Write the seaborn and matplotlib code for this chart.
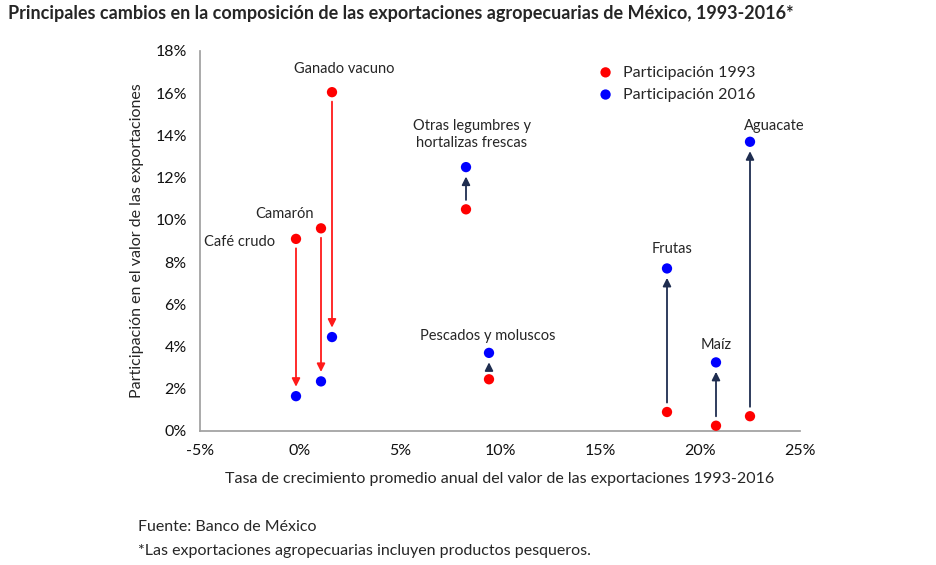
import matplotlib.pyplot as plt
import seaborn as sns
import pandas as pd

productos = ['Café crudo', 'Camarón', 'Ganado vacuno', 'Otras legumbres y\nhortalizas frescas',
             'Pescados y moluscos', 'Frutas', 'Maíz', 'Aguacate']
crecimiento = [-0.2, 1.05, 1.6, 8.3, 9.45, 18.35, 20.8, 22.5]
part_1993 = [9.1, 9.6, 16.05, 10.5, 2.45, 0.9, 0.25, 0.7]
part_2016 = [1.65, 2.35, 4.45, 12.5, 3.7, 7.7, 3.25, 13.7]
# posiciones de etiquetas (x, y) en unidades de datos
etiquetas_pos = [(-3.0, 8.6), (-0.8, 9.95), (2.2, 16.8), (8.6, 13.3),
                 (9.4, 4.15), (18.6, 8.3), (20.8, 3.75), (23.7, 14.1)]

sns.set_theme(style='white')
plt.rcParams['font.family'] = ['Lato', 'DejaVu Sans']

df = pd.DataFrame({'producto': productos, 'x': crecimiento, 'p93': part_1993, 'p16': part_2016})

fig = plt.figure(figsize=(9.36, 5.65), dpi=100)
ax = fig.add_axes([200/936, 1-431/565, 600/936, 380/565])

for _, r in df.iterrows():
    sube = r.p16 > r.p93
    color = '#1f2d50' if sube else '#ff1a1a'
    d = 0.35 if sube else -0.35
    ax.annotate('', xy=(r.x, r.p16 - d * 0.9), xytext=(r.x, r.p93 + d * 0.9),
                arrowprops=dict(arrowstyle='-|>', color=color, lw=1.3, mutation_scale=12))

sns.scatterplot(data=df, x='x', y='p93', color='#ff0000', s=55, edgecolor='none',
                ax=ax, label='Participación 1993', zorder=3)
sns.scatterplot(data=df, x='x', y='p16', color='#0000ff', s=55, edgecolor='none',
                ax=ax, label='Participación 2016', zorder=3)

for nombre, (tx, ty) in zip(productos, etiquetas_pos):
    ax.text(tx, ty, nombre, ha='center', va='bottom', fontsize=10.5, linespacing=1.25)

ax.set_xlim(-5, 25)
ax.set_ylim(0, 18)
ax.set_xticks(range(-5, 26, 5))
ax.set_xticklabels([f'{v}%' for v in range(-5, 26, 5)])
ax.set_yticks(range(0, 19, 2))
ax.set_yticklabels([f'{v}%' for v in range(0, 19, 2)])
ax.tick_params(labelsize=11.5, colors='#111111')
for s in ['top', 'right']:
    ax.spines[s].set_visible(False)
for s in ['left', 'bottom']:
    ax.spines[s].set_color('#a0a0a0')
ax.set_xlabel('Tasa de crecimiento promedio anual del valor de las exportaciones 1993-2016', fontsize=11.5, labelpad=10)
ax.set_ylabel('Participación en el valor de las exportaciones', fontsize=11.5, labelpad=8)
ax.legend(loc='upper right', bbox_to_anchor=(0.95, 1.0), frameon=False, fontsize=11.5,
          handletextpad=0.1, markerscale=1.0)

fig.text(8/936, 1-14/565, 'Principales cambios en la composición de las exportaciones agropecuarias de México, 1993-2016*',
         fontsize=13, fontweight='bold', va='center')
fig.text(138/936, 1-527/565, 'Fuente: Banco de México', fontsize=11.5, va='center')
fig.text(138/936, 1-551/565, '*Las exportaciones agropecuarias incluyen productos pesqueros.', fontsize=11.5, va='center')

fig.savefig('out.png', dpi=100)
